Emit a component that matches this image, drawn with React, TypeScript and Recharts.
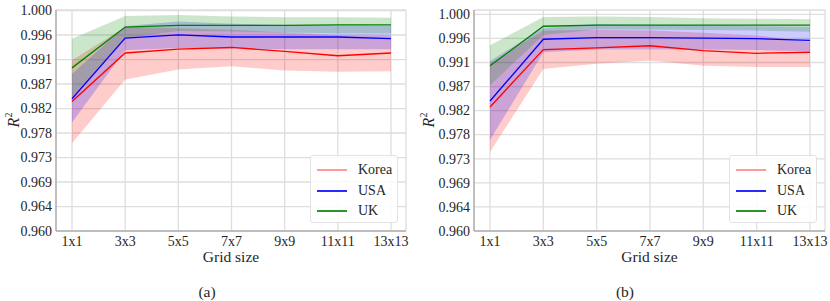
import React from 'react';
import { Area, CartesianGrid, ComposedChart, Line, XAxis, YAxis } from 'recharts';

const grid = ['1x1', '3x3', '5x5', '7x7', '9x9', '11x11', '13x13'];
const yTicks = [0.96, 0.96444, 0.96889, 0.97333, 0.97778, 0.98222, 0.98667, 0.99111, 0.99556, 1.0];

// (a)
const koreaA = [0.9835, 0.9923, 0.993, 0.9933, 0.9926, 0.9918, 0.9923];
const koreaALo = [0.9759, 0.9875, 0.9893, 0.9899, 0.9891, 0.9889, 0.989];
const koreaAHi = [0.991, 0.997, 0.9968, 0.9965, 0.996, 0.9955, 0.9954];
const usaA = [0.984, 0.995, 0.9956, 0.9952, 0.9952, 0.9952, 0.9949];
const usaALo = [0.9797, 0.9928, 0.9932, 0.9931, 0.993, 0.993, 0.993];
const usaAHi = [0.9885, 0.9972, 0.998, 0.9976, 0.9974, 0.9973, 0.9972];
const ukA = [0.9896, 0.997, 0.9973, 0.9973, 0.9973, 0.9974, 0.9974];
const ukALo = [0.9843, 0.995, 0.9963, 0.9962, 0.996, 0.9959, 0.9959];
const ukAHi = [0.9949, 0.999, 0.9992, 0.9989, 0.9988, 0.9988, 0.9987];

// (b)
const koreaB = [0.9829, 0.9935, 0.9938, 0.9942, 0.9933, 0.9928, 0.993];
const koreaBLo = [0.9746, 0.9899, 0.9909, 0.9915, 0.9905, 0.9903, 0.9903];
const koreaBHi = [0.991, 0.997, 0.9971, 0.997, 0.9966, 0.9961, 0.9949];
const usaB = [0.984, 0.9954, 0.9957, 0.9957, 0.9956, 0.9955, 0.9952];
const usaBLo = [0.9768, 0.993, 0.9935, 0.9935, 0.9935, 0.9934, 0.9932];
const usaBHi = [0.9914, 0.9975, 0.9982, 0.9981, 0.998, 0.9978, 0.9977];
const ukB = [0.9905, 0.9978, 0.998, 0.998, 0.998, 0.998, 0.998];
const ukBLo = [0.9869, 0.9962, 0.9972, 0.9972, 0.9971, 0.997, 0.9968];
const ukBHi = [0.9943, 0.9995, 0.9996, 0.9995, 0.9993, 0.9992, 0.9991];

const series = [
  { key: 'Korea', color: '#ff0000', legend: '#ff9a9a' },
  { key: 'USA', color: '#0000ff', legend: '#2a2aff' },
  { key: 'UK', color: '#008000', legend: '#2a952a' },
];

const FONT = "'Liberation Serif', 'Times New Roman', serif";
const TEXT = '#262626';
const FRAME = '#b0b0b0';

function buildRows(vals: number[][][]) {
  return grid.map((g, i) => {
    const row: any = { grid: g };
    series.forEach((s, j) => {
      const [mid, lo, hi] = vals[j];
      row[s.key] = mid[i];
      row[s.key + 'Band'] = [lo[i], hi[i]];
    });
    return row;
  });
}

const rowsA = buildRows([
  [koreaA, koreaALo, koreaAHi],
  [usaA, usaALo, usaAHi],
  [ukA, ukALo, ukAHi],
]);
const rowsB = buildRows([
  [koreaB, koreaBLo, koreaBHi],
  [usaB, usaBLo, usaBHi],
  [ukB, ukBLo, ukBHi],
]);

const XTick = ({ x, y, payload }: any) => (
  <text x={x} y={y} dy="0.71em" textAnchor="middle" fontSize={14} fontFamily={FONT} fill={TEXT}>
    {payload.value}
  </text>
);

const YTick = ({ x, y, payload }: any) => (
  <text x={x} y={y} dy="0.34em" textAnchor="end" fontSize={14} fontFamily={FONT} fill={TEXT}>
    {Number(payload.value).toFixed(3)}
  </text>
);

type PanelProps = {
  rows: any[];
  left: number;
  yMax: number;
  yWidth: number;
  right: number;
  caption: string;
  captionX: number;
};

function LegendBox({ x }: { x: number }) {
  return (
    <div
      style={{
        position: 'absolute',
        left: x,
        top: 155,
        width: 88,
        height: 68,
        background: 'rgba(255,255,255,0.85)',
        border: '1px solid #e2e2e2',
        borderRadius: 3,
        boxSizing: 'border-box',
        fontFamily: FONT,
        fontSize: 14,
        color: TEXT,
        paddingTop: 4,
      }}
    >
      {series.map((s) => (
        <div key={s.key} style={{ display: 'flex', alignItems: 'center', height: 20.5 }}>
          <div style={{ marginLeft: 6, width: 30, height: 1.6, background: s.legend }} />
          <span style={{ marginLeft: 11 }}>{s.key}</span>
        </div>
      ))}
    </div>
  );
}

function Panel({ rows, left, yMax, yWidth, right, caption, captionX }: PanelProps) {
  const plotLeft = left + yWidth;
  const plotRight = left + 415 - right;
  const mid = (plotLeft + plotRight) / 2;
  return (
    <>
      <div style={{ position: 'absolute', left, top: 0 }}>
        <ComposedChart width={415} height={251} data={rows} margin={{ top: 10, right, bottom: 0, left: 0 }}>
          <CartesianGrid stroke="#dedede" strokeWidth={1.3} />
          <XAxis
            dataKey="grid"
            scale="point"
            padding={{ left: 16, right: 15 }}
            height={20}
            tickLine={false}
            tickSize={0}
            tickMargin={5}
            axisLine={{ stroke: FRAME, strokeWidth: 1.5 }}
            tick={<XTick />}
            interval={0}
          />
          <XAxis
            xAxisId="top"
            orientation="top"
            dataKey="grid"
            scale="point"
            height={0}
            tick={false}
            tickLine={false}
            axisLine={{ stroke: FRAME, strokeWidth: 1.5 }}
          />
          <YAxis
            type="number"
            domain={[0.96, yMax]}
            ticks={yTicks}
            allowDataOverflow
            width={yWidth}
            tickLine={false}
            tickSize={0}
            tickMargin={4}
            axisLine={{ stroke: FRAME, strokeWidth: 1.5 }}
            tick={<YTick />}
          />
          <YAxis
            yAxisId="right"
            orientation="right"
            width={0}
            tick={false}
            tickLine={false}
            axisLine={{ stroke: FRAME, strokeWidth: 1.5 }}
          />
          {series.map((s) => (
            <Area
              key={s.key + 'Band'}
              type="linear"
              dataKey={s.key + 'Band'}
              stroke="none"
              fill={s.color}
              fillOpacity={0.2}
              isAnimationActive={false}
              activeDot={false}
            />
          ))}
          {series.map((s) => (
            <Line
              key={s.key}
              type="linear"
              dataKey={s.key}
              stroke={s.color}
              strokeWidth={1.3}
              dot={false}
              activeDot={false}
              isAnimationActive={false}
            />
          ))}
        </ComposedChart>
      </div>
      <div
        style={{
          position: 'absolute',
          left: left + 2,
          top: 110,
          width: 24,
          height: 20,
          transform: 'rotate(-90deg)',
          fontFamily: FONT,
          fontSize: 16,
          color: TEXT,
          lineHeight: '20px',
          textAlign: 'center',
        }}
      >
        <i>R</i>
        <sup style={{ fontSize: 10, verticalAlign: 'top', position: 'relative', top: -5 }}>2</sup>
      </div>
      <div
        style={{
          position: 'absolute',
          left: mid - 60,
          width: 120,
          top: 248,
          textAlign: 'center',
          fontFamily: FONT,
          fontSize: 15.5,
          lineHeight: '18px',
          color: TEXT,
        }}
      >
        Grid size
      </div>
      <div
        style={{
          position: 'absolute',
          left: captionX - 30,
          width: 60,
          top: 283,
          textAlign: 'center',
          fontFamily: FONT,
          fontSize: 15.5,
          lineHeight: '18px',
          color: TEXT,
        }}
      >
        {caption}
      </div>
      <LegendBox x={plotRight - 96} />
    </>
  );
}

export default function App() {
  return (
    <div style={{ position: 'absolute', left: 0, top: 0, width: 830, height: 301, background: '#fff' }}>
      <Panel rows={rowsA} left={0} yMax={1.0001} yWidth={56} right={9} caption="(a)" captionX={207} />
      <Panel rows={rowsB} left={415} yMax={1.0008} yWidth={59} right={5} caption="(b)" captionX={625} />
    </div>
  );
}
